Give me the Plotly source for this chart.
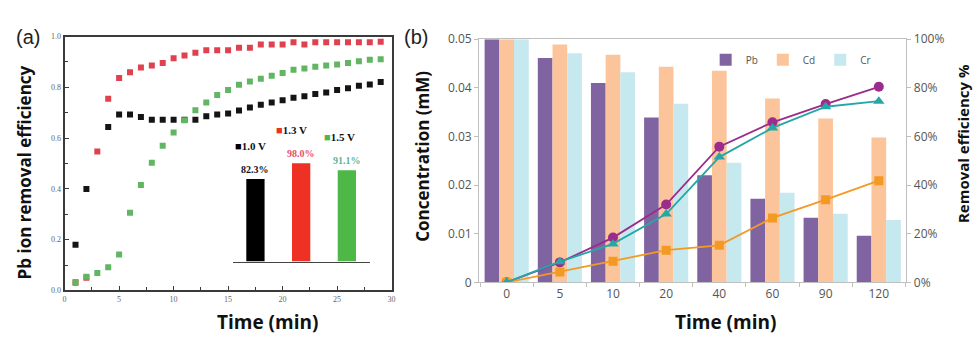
import plotly.graph_objects as go

W, H = 979, 345

# ---------------- Panel (a) data ----------------
t_black = [1, 2, 4, 5, 6, 7, 8, 9, 10, 11, 12, 13, 14, 15, 16, 17, 18, 19, 20, 21, 22, 23, 24, 25, 26, 27, 28, 29]
eff_black = [0.18, 0.40, 0.644, 0.693, 0.693, 0.683, 0.672, 0.672, 0.672, 0.672, 0.672, 0.686, 0.693, 0.697,
             0.709, 0.721, 0.731, 0.740, 0.749, 0.759, 0.765, 0.774, 0.780, 0.790, 0.796, 0.806, 0.811, 0.821]
t_red = list(range(1, 30))
eff_red = [0.03, 0.05, 0.547, 0.755, 0.837, 0.859, 0.878, 0.886, 0.896, 0.915, 0.925, 0.936, 0.946, 0.946,
           0.946, 0.956, 0.956, 0.969, 0.969, 0.969, 0.978, 0.969, 0.978, 0.978, 0.978, 0.978, 0.978, 0.978, 0.980]
t_green = list(range(1, 30))
eff_green = [0.033, 0.054, 0.069, 0.091, 0.141, 0.306, 0.415, 0.503, 0.570, 0.622, 0.670, 0.710, 0.740, 0.770,
             0.790, 0.810, 0.823, 0.834, 0.846, 0.856, 0.869, 0.874, 0.881, 0.886, 0.890, 0.896, 0.903, 0.909, 0.911]
inset_labels = ["1.0 V", "1.3 V", "1.5 V"]
inset_vals = [82.3, 98.0, 91.1]

# ---------------- Panel (b) data ----------------
times_b = ["0", "5", "10", "20", "40", "60", "90", "120"]
conc_pb = [0.05, 0.0461, 0.0410, 0.0339, 0.0220, 0.0172, 0.0133, 0.0096]
conc_cd = [0.05, 0.0489, 0.0468, 0.0443, 0.0435, 0.0378, 0.0337, 0.0298]
conc_cr = [0.05, 0.0471, 0.0432, 0.0367, 0.0246, 0.0184, 0.0141, 0.0128]
eff_pb = [0, 8.2, 18.4, 32.0, 55.8, 65.8, 73.3, 80.4]
eff_cd = [0, 4.3, 8.7, 13.2, 15.2, 26.5, 34.0, 41.8]
eff_cr = [0, 8.5, 15.8, 28.1, 51.5, 63.5, 72.2, 74.5]

# colours
c_black, c_red, c_green = "#141414", "#e0414f", "#62b562"
ins_colors = ["#000000", "#ee3124", "#4db848"]
ins_text_colors = ["#111111", "#e8506a", "#5fb39a"]
c_pb_bar, c_cd_bar, c_cr_bar = "#8064a2", "#fbc49a", "#c6e8ef"
c_pb_line, c_cd_line, c_cr_line = "#9b2b8c", "#f39a24", "#27a6a6"


def px(x):
    return x / W


def py(y):
    return 1 - y / H


fig = go.Figure()

# ---- panel (a) scatter ----
fig.add_trace(go.Scatter(x=t_black, y=eff_black, mode="markers", xaxis="x", yaxis="y",
                         marker=dict(symbol="square", size=6, color=c_black), showlegend=False))
fig.add_trace(go.Scatter(x=t_red, y=eff_red, mode="markers", xaxis="x", yaxis="y",
                         marker=dict(symbol="square", size=6, color=c_red), showlegend=False))
fig.add_trace(go.Scatter(x=t_green, y=eff_green, mode="markers", xaxis="x", yaxis="y",
                         marker=dict(symbol="square", size=6, color=c_green), showlegend=False))

# ---- inset bars ----
fig.add_trace(go.Bar(x=[0, 1, 2], y=inset_vals, xaxis="x3", yaxis="y3", width=0.4,
                     marker=dict(color=ins_colors, line=dict(width=0)), showlegend=False))

# ---- panel (b) bars ----
fig.add_trace(go.Bar(x=times_b, y=conc_pb, name="Pb", xaxis="x2", yaxis="y2",
                     marker=dict(color=c_pb_bar, line=dict(width=0))))
fig.add_trace(go.Bar(x=times_b, y=conc_cd, name="Cd", xaxis="x2", yaxis="y2",
                     marker=dict(color=c_cd_bar, line=dict(width=0))))
fig.add_trace(go.Bar(x=times_b, y=conc_cr, name="Cr", xaxis="x2", yaxis="y2",
                     marker=dict(color=c_cr_bar, line=dict(width=0))))

# ---- panel (b) lines ----
fig.add_trace(go.Scatter(x=times_b, y=eff_pb, mode="lines+markers", xaxis="x2", yaxis="y4",
                         line=dict(color=c_pb_line, width=1.8),
                         marker=dict(symbol="circle", size=10, color=c_pb_line), showlegend=False))
fig.add_trace(go.Scatter(x=times_b, y=eff_cd, mode="lines+markers", xaxis="x2", yaxis="y4",
                         line=dict(color=c_cd_line, width=1.8),
                         marker=dict(symbol="square", size=9, color=c_cd_line), showlegend=False))
fig.add_trace(go.Scatter(x=times_b, y=eff_cr, mode="lines+markers", xaxis="x2", yaxis="y4",
                         line=dict(color=c_cr_line, width=1.8),
                         marker=dict(symbol="triangle-up", size=10, color=c_cr_line), showlegend=False))

tick_a = dict(family="Liberation Serif", size=8, color="#666666")
tick_b = dict(family="Open Sans", size=12, color="#555555")

layout = dict(
    width=W, height=H, margin=dict(l=0, r=0, t=0, b=0),
    paper_bgcolor="white", plot_bgcolor="white",
    barmode="group", bargap=0.17, bargroupgap=0,
    # panel (a)
    xaxis=dict(domain=[px(63), px(392)], range=[0, 30], dtick=5, tick0=0,
               showline=True, linecolor="#3a3a3a", linewidth=2, mirror=True,
               ticks="inside", ticklen=4, tickcolor="#3a3a3a",
               minor=dict(dtick=2.5, ticks="inside", ticklen=3, tickcolor="#3a3a3a"),
               showgrid=False, zeroline=False, tickfont=tick_a, anchor="y"),
    yaxis=dict(domain=[py(296), py(29)], range=[0, 1], dtick=0.2, tickformat=".1f",
               showline=True, linecolor="#3a3a3a", linewidth=2, mirror=True,
               ticks="inside", ticklen=4, tickcolor="#3a3a3a",
               minor=dict(dtick=0.1, ticks="inside", ticklen=3, tickcolor="#3a3a3a"),
               showgrid=False, zeroline=False, tickfont=tick_a, anchor="x"),
    # inset
    xaxis3=dict(domain=[px(232), px(370)], range=[-0.5, 2.5], showline=True, linecolor="#444444",
                linewidth=1, showticklabels=False, ticks="", showgrid=False, zeroline=False, anchor="y3"),
    yaxis3=dict(domain=[py(265.7), py(160.2)], range=[0, 100], visible=False, showgrid=False,
                anchor="x3"),
    # panel (b)
    xaxis2=dict(domain=[px(480), px(910)], type="category", showline=True, linecolor="#bfbfbf",
                linewidth=1, mirror=True, ticks="outside", ticklen=4, tickcolor="#bfbfbf",
                tickson="boundaries", showgrid=False, zeroline=False, tickfont=tick_b, anchor="y2"),
    yaxis2=dict(domain=[py(287.5), py(31.7)], range=[0, 0.05],
                tickvals=[0, 0.01, 0.02, 0.03, 0.04, 0.05], ticktext=["0", "0.01", "0.02", "0.03", "0.04", "0.05"],
                showline=True, linecolor="#bfbfbf", linewidth=1, ticks="outside", ticklen=4,
                tickcolor="#bfbfbf", showgrid=False, zeroline=False, tickfont=tick_b, anchor="x2"),
    yaxis4=dict(domain=[py(287.5), py(31.7)], range=[0, 100], dtick=20, ticksuffix="%",
                overlaying="y2", side="right", showline=True, linecolor="#bfbfbf", linewidth=1,
                ticks="outside", ticklen=4, tickcolor="#bfbfbf", showgrid=False, zeroline=False,
                tickfont=tick_b, anchor="x2"),
    legend=dict(orientation="h", x=px(708), y=py(38), xanchor="left", yanchor="top",
                font=dict(family="Open Sans", size=10, color="#555555"),
                bgcolor="rgba(0,0,0,0)", itemwidth=30, traceorder="normal"),
)
fig.update_layout(**layout)

ann = []


def a(text, x, y, font, angle=0, xanchor="center"):
    ann.append(dict(text=text, x=px(x), y=py(y), xref="paper", yref="paper", showarrow=False,
                    xanchor=xanchor, yanchor="middle", textangle=angle, font=font))


# panel labels
a("(a)", 26, 29, dict(family="Liberation Sans", size=20, color="#222222"))
a("(b)", 417, 29, dict(family="Liberation Sans", size=20, color="#222222"))
# axis titles
a("<b>Pb ion removal efficiency</b>", 23, 172, dict(family="Open Sans", size=17, color="#111111"), -90)
a("<b>Time (min)</b>", 267, 329, dict(family="Open Sans", size=19, color="#111111"))
a("<b>Time (min)</b>", 728, 329, dict(family="Open Sans", size=19, color="#111111"))
a("<b>Concentration (mM)</b>", 423, 155, dict(family="Open Sans", size=17, color="#111111"), -90)
a("<b>Removal efficiency %</b>", 967, 142, dict(family="Open Sans", size=15, color="#111111"), -90)

# inset value labels
for i, v in enumerate(inset_vals):
    ann.append(dict(text=f"<b>{v:.1f}%</b>", x=i, y=v, xref="x3", yref="y3", showarrow=False,
                    xanchor="center", yanchor="bottom", yshift=2,
                    font=dict(family="Liberation Serif", size=10, color=ins_text_colors[i])))
# inset legend labels
leg_pos = [(232, 144), (274, 127), (322, 135)]
for (lx, ly), lab, col in zip(leg_pos, inset_labels, ins_colors):
    a(f"<span style='color:{col}'>■</span><b>{lab}</b>", lx, ly,
      dict(family="Liberation Serif", size=11, color="#111111"), 0, "left")
fig.update_layout(annotations=ann)

fig.write_html("out.html")
